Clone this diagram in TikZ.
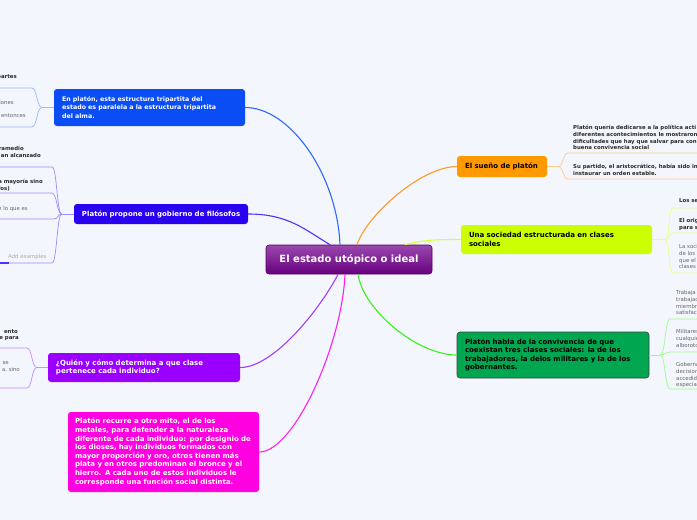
\documentclass[tikz,border=0pt]{standalone}
\usepackage{fontspec}
\setmainfont{DejaVu Sans}
\usepackage{tikz}

\definecolor{bgcol}{HTML}{F3F6FD}
\definecolor{centtop}{HTML}{9A48AE}
\definecolor{centbot}{HTML}{68007F}
\definecolor{centline}{HTML}{4E0062}
\definecolor{bluebox}{HTML}{0A4DF5}
\definecolor{violetbox}{HTML}{2A00F0}
\definecolor{purplebox}{HTML}{9900FF}
\definecolor{magentabox}{HTML}{FF00E0}
\definecolor{orangebox}{HTML}{FF9900}
\definecolor{limebox}{HTML}{CCFF00}
\definecolor{greenbox}{HTML}{00A650}
\definecolor{blueline}{HTML}{2F68FF}
\definecolor{violetline}{HTML}{5030FF}
\definecolor{purpleline}{HTML}{A23CFF}
\definecolor{magentaline}{HTML}{FF20EC}
\definecolor{orangeline}{HTML}{FF9A22}
\definecolor{limeline}{HTML}{D8FF33}
\definecolor{greenline}{HTML}{3CF01A}
\definecolor{bluesub}{HTML}{9DB4FF}
\definecolor{violetsub}{HTML}{9C8CFF}
\definecolor{purplesub}{HTML}{CC8CFF}
\definecolor{orangesub}{HTML}{FFCC85}
\definecolor{limesub}{HTML}{E4FF85}
\definecolor{greensub}{HTML}{9CFF85}
\definecolor{subtext}{HTML}{2A2A2A}
\definecolor{graytext}{HTML}{666666}
\definecolor{faintgray}{HTML}{AAAAAA}

\newcommand\centfont{\fontsize{10}{12}\selectfont\bfseries}
\newcommand\topicfont{\fontsize{7}{8.6}\selectfont\bfseries}
\newcommand\smalltopicfont{\fontsize{6.3}{8.6}\selectfont\bfseries}
\newcommand\subbfont{\fontsize{5.4}{6.7}\selectfont\bfseries}
\newcommand\subnfont{\fontsize{5.4}{6.7}\selectfont}

\tikzset{
  topic/.style={rounded corners=3pt, inner xsep=8pt, inner ysep=0pt, align=left, font=\topicfont, text=white},
  branch/.style={line width=1.1pt},
  subline/.style={line width=0.7pt},
  subbold/.style={font=\subbfont, text=subtext, inner sep=0pt},
  subnorm/.style={font=\subnfont, text=graytext, inner sep=0pt},
}

\begin{document}
\begin{tikzpicture}[x=1pt,y=-1pt]

\useasboundingbox (0,0) rectangle (697,520);
\fill[bgcol] (0,0) rectangle (697,520);
\clip (0,0) rectangle (697,520);

% Central topic
\node[draw=centline, line width=0.6pt, top color=centtop, bottom color=centbot, rounded corners=3pt,
  minimum width=166, minimum height=29, font=\centfont, text=white] (utopia) at (349,259.5) {El estado utópico o ideal};

% Left topics
\node[topic, font=\smalltopicfont, fill=bluebox, text width=175, minimum height=37] (alma) at (149.5,107.5)
  {En platón, esta estructura tripartita del\\estado es paralela a la estructura tripartita\\del alma.};
\node[topic, fill=violetbox, inner xsep=7pt, text width=160, minimum height=20] (filosofos) at (161,214)
  {\mbox{\hspace{1pt}Platón propone un gobierno de filósofos}};
\node[topic, fill=purplebox, text width=176, minimum height=29] (clase) at (144,367.5)
  {¿Quién y cómo determina a que clase\\pertenece cada individuo?};
\node[topic, fill=magentabox, inner xsep=7pt, text width=177, minimum height=80] (mito) at (163.5,452)
  {Platón recurre a otro mito, el de los\\metales, para defender a la naturaleza\\diferente de cada individuo: por designio de\\los dioses, hay individuos formados con\\mayor proporción y oro, otros tienen más\\plata y en otros predominan el bronce y el\\hierro. A cada uno de estos individuos le\\corresponde una función social distinta.};

% Right topics
\node[topic, fill=orangebox, text=black, text width=74, minimum height=21] (sueno) at (502,166.5)
  {El sueño de platón};
\node[topic, fill=limebox, text=black, text width=175, minimum height=29] (sociedad) at (556.5,239.5)
  {Una sociedad estructurada en clases\\sociales};
\node[topic, fill=greenbox, draw=black!75, line width=0.6pt, text=black, text width=176, minimum height=46] (convivencia) at (553,355)
  {Platón habla de la convivencia de que\\coexistan tres clases sociales: la de los\\trabajadores, la delos militares y la de los\\gobernantes.};

% Main branches
\draw[branch, blueline] (alma.east) .. controls +(45,0) and +(-3,-70) .. ([xshift=-9]utopia.north);
\draw[branch, violetline] (filosofos.east) .. controls +(40,0) and +(-25,-15) .. ([xshift=-19]utopia.north);
\draw[branch, purpleline] (clase.east) .. controls +(35,0) and +(-15,30) .. ([xshift=-11]utopia.south);
\draw[branch, magentaline] (mito.east) .. controls +(35,0) and +(-3,70) .. ([xshift=-4]utopia.south);
\draw[branch, orangeline] (sueno.west) .. controls +(-35,0) and +(10,-30) .. ([xshift=8]utopia.north);
\draw[branch, limeline] (sociedad.west) .. controls +(-25,0) and +(20,-5) .. ([xshift=56]utopia.north);
\draw[branch, greenline] (convivencia.west) .. controls +(-40,0) and +(5,35) .. ([xshift=9]utopia.south);

% Sub branches, left side
\draw[subline, bluesub] (alma.west) -- ++(-12,0) coordinate (ja);
\draw[subline, bluesub] (ja) .. controls +(-5,0) and +(5,0) .. (32,88) -- (0,88);
\draw[subline, bluesub] (ja) .. controls +(-5,0) and +(5,0) .. (32,127) -- (0,127);

\draw[subline, violetsub] (filosofos.west) -- ++(-12,0) coordinate (jf);
\draw[subline, violetsub] (jf) .. controls +(-5,0) and +(5,0) .. (52,167) -- (0,167);
\draw[subline, violetsub] (jf) .. controls +(-5,0) and +(5,0) .. (52,193) -- (0,193);
\draw[subline, violetsub] (jf) .. controls +(-4,0) and +(4,0) .. (54,219) -- (0,219);
\draw[subline, violetsub] (jf) .. controls +(-5,0) and +(5,0) .. (52,263) -- (0,263);
\draw[line width=1.6pt, violetline] (0,263) -- (9,263);

\draw[subline, purplesub] (clase.west) -- ++(-11,0) coordinate (jc);
\draw[subline, purplesub] (jc) .. controls +(-5,0) and +(5,0) .. (27,348) -- (0,348);
\draw[subline, purplesub] (jc) .. controls +(-5,0) and +(5,0) .. (27,388) -- (0,388);

% Sub branches, right side
\draw[subline, orangesub] (sueno.east) -- ++(11,0) coordinate (js);
\draw[subline, orangesub] (js) .. controls +(5,0) and +(-5,0) .. (568,153) -- (697,153);
\draw[subline, orangesub] (js) .. controls +(5,0) and +(-5,0) .. (568,179) -- (697,179);

\draw[subline, limesub] (sociedad.east) -- ++(13,0) coordinate (jl);
\draw[subline, limesub] (jl) .. controls +(5,0) and +(-5,0) .. (673,208) -- (697,208);
\draw[subline, limesub] (jl) .. controls +(4,0) and +(-4,0) .. (673,233) -- (697,233);
\draw[subline, limesub] (jl) .. controls +(5,0) and +(-5,0) .. (673,273) -- (697,273);

\draw[subline, greensub] (convivencia.east) -- ++(11,0) coordinate (jg);
\draw[subline, greensub] (jg) .. controls +(5,0) and +(-5,0) .. (670,319) -- (697,319);
\draw[subline, greensub] (jg) .. controls +(4,0) and +(-4,0) .. (670,352) -- (697,352);
\draw[subline, greensub] (jg) .. controls +(5,0) and +(-5,0) .. (670,389) -- (697,389);

% Sub texts, left side
\node[subbold, anchor=base east] (pa1) at (17,78) {partes};
\node[subnorm, anchor=base east] (pa2) at (14,104) {ciones};
\node[subnorm, anchor=base east] (pa3) at (26,117) {entonces};

\node[subbold, anchor=base east] (fi1) at (24,150) {ramedio};
\node[subbold, anchor=base east] (fi2) at (41,157.5) {an alcanzado};
\node[subbold, anchor=base east] (fi3) at (43,183.5) {a mayoría sino};
\node[subbold, anchor=base east] (fi4) at (10,190) {fos)};
\node[subnorm, anchor=base east] (fi5) at (28,210) {n lo que es};
\node[subnorm, text=faintgray, anchor=base west] (fi6) at (8,258) {Add examples};

\node[subbold, anchor=base east] (cl1) at (18,333) {ento};
\node[subbold, anchor=base east] (cl2) at (19,339.5) {e para};
\node[subnorm, anchor=base east] (cl3) at (9,364) {se};
\node[subnorm, anchor=base east] (cl4) at (20,371) {a, sino};

% Sub texts, right side
\node[subbold, anchor=north west, align=left] (su1) at (573,125.3)
  {Platón quería dedicarse a la política acti\\diferentes acontecimientos le mostraron\\dificultades que hay que salvar para con\\buena convivencia social};
\node[subbold, anchor=north west, align=left] (su2) at (573,164.3)
  {Su partido, el aristocrático, había sido in\\instaurar un orden estable.};

\node[subbold, anchor=north west, align=left] (so1) at (679,198.3) {Los se};
\node[subbold, anchor=north west, align=left] (so2) at (679,218.3) {El orig\\para s};
\node[subnorm, anchor=north west, align=left] (so3) at (679,244.3) {La soci\\de los\\que el\\clases};

\node[subnorm, anchor=north west, align=left] (co1) at (676,290.3) {Trabaja\\trabajad\\miembr\\satisfac};
\node[subnorm, anchor=north west, align=left] (co2) at (676,329.3) {Militares\\cualquie\\alboroto};
\node[subnorm, anchor=north west, align=left] (co3) at (676,362.3) {Goberna\\decision\\accedid\\especial};

\end{tikzpicture}
\end{document}
